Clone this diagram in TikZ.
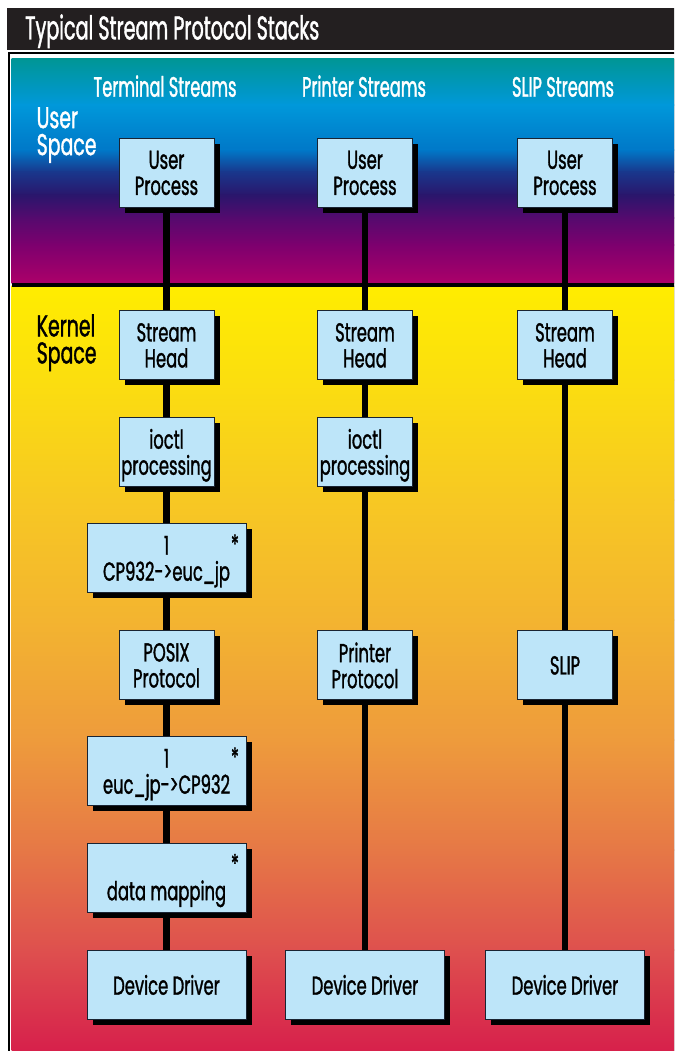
\documentclass[tikz,border=0pt]{standalone}
\usepackage{fontspec}
\newfontfamily\ff{Poppins}[FakeStretch=0.63, FakeBold=1.2]
\newfontfamily\cf{Poppins}[FakeStretch=0.58, FakeBold=1.2]
\newfontfamily\tf{Poppins}[FakeStretch=0.58, FakeBold=1.2]
\usetikzlibrary{shadows}
\definecolor{titlebg}{RGB}{35,31,32}
\definecolor{boxfill}{RGB}{189,229,249}
\definecolor{boxline}{RGB}{25,35,50}
\definecolor{u0}{RGB}{0,150,150}
\definecolor{u1}{RGB}{0,152,218}
\definecolor{u2}{RGB}{0,120,200}
\definecolor{u3}{RGB}{25,55,140}
\definecolor{u4}{RGB}{42,22,108}
\definecolor{u5}{RGB}{85,10,110}
\definecolor{u6}{RGB}{125,0,110}
\definecolor{u7}{RGB}{172,0,105}
\definecolor{k0}{RGB}{255,237,0}
\definecolor{k1}{RGB}{251,222,15}
\definecolor{k2}{RGB}{247,200,35}
\definecolor{k3}{RGB}{243,180,48}
\definecolor{k4}{RGB}{238,155,60}
\definecolor{k5}{RGB}{230,120,70}
\definecolor{k6}{RGB}{222,80,78}
\definecolor{k7}{RGB}{214,28,75}
\begin{document}
\begin{tikzpicture}[x=1pt,y=-1pt,
  stackbox/.style={draw=boxline, line width=0.9pt, fill=boxfill, minimum width=95pt,
    minimum height=69pt, inner sep=0pt, align=center,
    font=\ff\fontsize{26}{26}\selectfont, text depth=0pt,
    drop shadow={shadow xshift=5.5pt, shadow yshift=-5.5pt, opacity=1, fill=black}},
  widebox/.style={stackbox, minimum width=159pt},
  conn/.style={line width=6.3pt, black},
  star/.style={inner sep=0pt, anchor=north, font=\ff\fontsize{26}{26}\selectfont},
  collabel/.style={anchor=base, text=white, inner sep=0pt, font=\cf\fontsize{28}{28}\selectfont},
  arealabel/.style={anchor=north west, inner sep=0pt, align=left, font=\ff\fontsize{30}{27}\selectfont}
]
\useasboundingbox (0,0) rectangle (674,1051);
\clip (0,0) rectangle (674,1051);
\fill[white] (0,0) rectangle (674,1051);
% title bar
\fill[titlebg] (7,8.3) rectangle (680,50);
\node[anchor=base west, inner sep=0pt, text=white, font=\tf\fontsize{33}{33}\selectfont] (title) at (25,39.5) {Typical Stream Protocol Stacks};
% frame
\draw[black, line width=2.2pt] (8.6,1060) -- (8.6,53.3) -- (690,53.3);
% user space gradient
\foreach \ya/\ca/\yb/\cb in {59.3/u0/105/u1, 105/u1/150/u2, 150/u2/172/u3, 172/u3/195/u4, 195/u4/218/u5, 218/u5/245/u6, 245/u6/283/u7}
  \fill[top color=\ca, bottom color=\cb] (11.5,\ya-0.3) rectangle (690,\yb+0.3);
% kernel space gradient
\foreach \ya/\ca/\yb/\cb in {286/k0/380/k1, 380/k1/500/k2, 500/k2/620/k3, 620/k3/740/k4, 740/k4/850/k5, 850/k5/950/k6, 950/k6/1060/k7}
  \fill[top color=\ca, bottom color=\cb] (11.5,\ya-0.3) rectangle (690,\yb+0.3);
% separator
\fill[black] (11.5,282.7) rectangle (690,286.7);
% labels
\node[collabel] (lterm) at (165,96.7) {Terminal Streams};
\node[collabel] (lprin) at (364,96.7) {Printer Streams};
\node[collabel] (lslip) at (563,96.7) {SLIP Streams};
\node[arealabel, text=white] (uspace) at (36.5,107) {User\\Space};
\node[arealabel, text=black] (kspace) at (36.5,314) {Kernel\\Space};
% terminal column
\node[stackbox] (up1) at (166.5,172.8) {User\\Process};
\node[stackbox] (sh1) at (166.5,345.3) {Stream\\Head};
\node[stackbox] (io1) at (166.5,451.8) {ioctl\\processing};
\node[widebox] (cp1) at (166.5,558.3) {1\\CP932->euc\_jp};
\node[stackbox] (px1) at (166.5,665.3) {POSIX\\Protocol};
\node[widebox] (eu1) at (166.5,771.3) {1\\euc\_jp->CP932};
\node[widebox] (dm1) at (166.5,877.8) {\vphantom{1}\\data mapping};
\node[widebox] (dd1) at (166.5,984.8) {Device Driver};
\node[star] (s1) at ([xshift=-11.5pt, yshift=-11pt]cp1.north east) {*};
\node[star] (s2) at ([xshift=-11.5pt, yshift=-11pt]eu1.north east) {*};
\node[star] (s3) at ([xshift=-11.5pt, yshift=-11pt]dm1.north east) {*};
% printer column
\node[stackbox] (up2) at (365,172.8) {User\\Process};
\node[stackbox] (sh2) at (365,345.3) {Stream\\Head};
\node[stackbox] (io2) at (365,451.8) {ioctl\\processing};
\node[stackbox] (pp2) at (365,665.3) {Printer\\Protocol};
\node[widebox] (dd2) at (365,984.8) {Device Driver};
% slip column
\node[stackbox] (up3) at (565,172.8) {User\\Process};
\node[stackbox] (sh3) at (565,345.3) {Stream\\Head};
\node[stackbox] (sl3) at (565,665.3) {SLIP};
\node[widebox] (dd3) at (565,984.8) {Device Driver};
% connectors
\draw[conn] (up1) -- (sh1);
\draw[conn] (sh1) -- (io1);
\draw[conn] (io1) -- (cp1);
\draw[conn] (cp1) -- (px1);
\draw[conn] (px1) -- (eu1);
\draw[conn] (eu1) -- (dm1);
\draw[conn] (dm1) -- (dd1);
\draw[conn] (up2) -- (sh2);
\draw[conn] (sh2) -- (io2);
\draw[conn] (io2) -- (pp2);
\draw[conn] (pp2) -- (dd2);
\draw[conn] (up3) -- (sh3);
\draw[conn] (sh3) -- (sl3);
\draw[conn] (sl3) -- (dd3);
\end{tikzpicture}
\end{document}
